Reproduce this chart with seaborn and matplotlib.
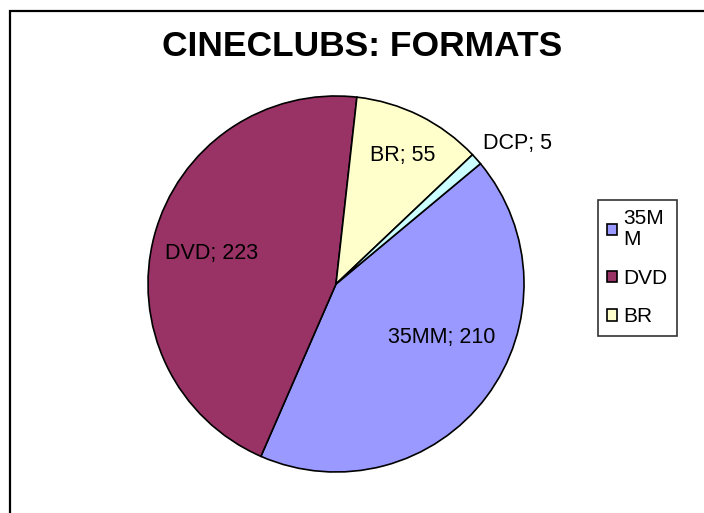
import numpy as np
import matplotlib
matplotlib.use("Agg")
import matplotlib.pyplot as plt
import seaborn as sns
from matplotlib.patches import Patch, Rectangle

# data
formats = ["35MM", "DVD", "BR", "DCP"]
counts = [210, 223, 55, 5]
legend_labels = ["35M\nM", "DVD", "BR"]
colors = ["#9999FF", "#993366", "#FFFFCC", "#CCFFFF"]

# label placement (radius factor, angle tweak in degrees)
label_r = [0.63, 0.68, 0.77, 1.22]
label_dt = [10, 1, -1, -4]

sns.set_style("white")
plt.rcParams['font.family'] = ['Liberation Sans', 'DejaVu Sans']
plt.rcParams['text.color'] = 'black'

fig = plt.figure(figsize=(7.04, 5.13), dpi=100)

# outer chart frame (right/bottom edges fall outside the image)
fig.patches.append(Rectangle((10 / 704, -0.2), 1.5, 0.2 + 1 - 11 / 513,
                             transform=fig.transFigure, fill=False,
                             edgecolor="black", linewidth=1.6))

ax = fig.add_axes([148 / 704, (513 - 284 - 188) / 513, 376 / 704, 376 / 513])
wedges, _ = ax.pie(counts, colors=colors, startangle=39.8, counterclock=False,
                   wedgeprops=dict(edgecolor="black", linewidth=1.2))
ax.set_xlim(-1, 1)
ax.set_ylim(-1, 1)

for w, name, val, r, dt in zip(wedges, formats, counts, label_r, label_dt):
    mid = np.deg2rad((w.theta1 + w.theta2) / 2 + dt)
    ax.text(r * np.cos(mid), r * np.sin(mid), f"{name}; {val}",
            ha="center", va="center", fontsize=15.5, color="black")

fig.text(362 / 704, 1 - 46 / 513, "CINECLUBS: FORMATS", ha="center", va="center",
         fontsize=25.5, fontweight="bold", color="black")

handles = [Patch(facecolor=c, edgecolor="black", linewidth=1.2) for c in colors[:3]]
leg = fig.legend(handles, legend_labels, loc="upper left",
                 bbox_to_anchor=(598 / 704, 1 - 200 / 513),
                 fontsize=15, frameon=True, fancybox=False, shadow=False,
                 handlelength=0.45, handleheight=0.45, handletextpad=0.3,
                 labelspacing=0.95, borderpad=0.45, borderaxespad=0)
leg.get_frame().set_edgecolor("black")
leg.get_frame().set_linewidth(1.2)
for t in leg.get_texts():
    t.set_color("black")
    t.set_linespacing(1.1)

fig.savefig("out.png", dpi=100)
